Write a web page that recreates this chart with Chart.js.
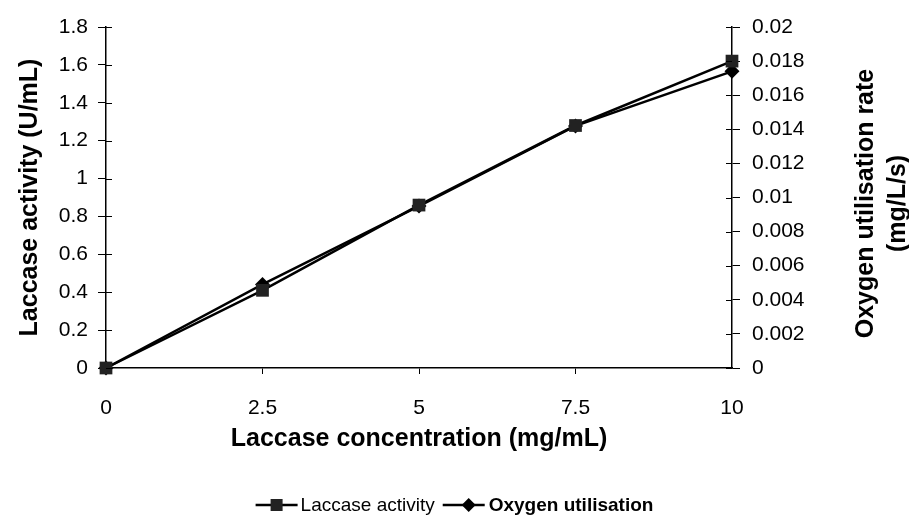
<!DOCTYPE html>
<html lang="en">
<head>
<meta charset="UTF-8">
<title>Laccase activity and oxygen utilisation</title>
<script src="https://cdn.jsdelivr.net/npm/chart.js"></script>
<style>
    body {
        margin: 0;
        padding: 0;
        background-color: #fff;
    }
    #wrap {
        width: 909px;
        height: 519px;
    }
</style>
</head>
<body>
<div id="wrap">
    <canvas id="chart" width="909" height="519"></canvas>
</div>

<script>
    // data
    const concentration = [0, 2.5, 5, 7.5, 10];           // mg/mL
    const laccaseActivity = [0, 0.41, 0.86, 1.28, 1.62];   // U/mL (left axis)
    const oxygenRate = [0, 0.0049, 0.0095, 0.0142, 0.0174]; // mg/L/s (right axis)

    const seriesNames = ['Laccase activity', 'Oxygen utilisation'];
    const xTitle = 'Laccase concentration (mg/mL)';
    const yTitle = 'Laccase activity (U/mL)';
    const y1Title = ['Oxygen utilisation rate', '(mg/L/s)'];

    const FONT = "'Liberation Sans', Arial, sans-serif";
    const fmt = v => String(+Number(v).toFixed(4));

    // cross ticks, right axis title and legend
    const extras = {
        id: 'extras',
        afterDraw(chart) {
            const ctx = chart.ctx;
            const area = chart.chartArea;
            ctx.save();
            ctx.strokeStyle = '#000';
            ctx.lineWidth = 1;
            // inner half of the crossing ticks on both value axes
            ['y', 'y1'].forEach(id => {
                const sc = chart.scales[id];
                const x0 = id === 'y' ? area.left : area.right;
                const dir = id === 'y' ? 1 : -1;
                sc.ticks.forEach(t => {
                    const py = Math.round(sc.getPixelForValue(t.value)) + 0.5;
                    ctx.beginPath();
                    ctx.moveTo(x0, py);
                    ctx.lineTo(x0 + dir * 6, py);
                    ctx.stroke();
                });
            });

            // right axis title, read bottom to top like the left one
            ctx.fillStyle = '#000';
            ctx.font = 'bold 25px ' + FONT;
            ctx.textAlign = 'center';
            ctx.textBaseline = 'middle';
            const midY = (area.top + area.bottom) / 2 + 6;
            y1Title.forEach((line, i) => {
                ctx.save();
                ctx.translate(area.right + 134 + i * 32, midY);
                ctx.rotate(-Math.PI / 2);
                ctx.fillText(line, 0, 0);
                ctx.restore();
            });

            // legend
            const ly = 505;
            const sampleW = 42;
            ctx.textAlign = 'left';
            ctx.font = '19px ' + FONT;
            const w1 = ctx.measureText(seriesNames[0]).width;
            ctx.font = 'bold 19px ' + FONT;
            const w2 = ctx.measureText(seriesNames[1]).width;
            const total = sampleW + 3 + w1 + 8 + sampleW + 4 + w2;
            let x = chart.width / 2 - total / 2;

            ctx.lineWidth = 2.5;
            ctx.beginPath();
            ctx.moveTo(x, ly);
            ctx.lineTo(x + sampleW, ly);
            ctx.stroke();
            ctx.fillStyle = '#222';
            ctx.fillRect(x + sampleW / 2 - 6, ly - 6, 12, 12);
            x += sampleW + 3;
            ctx.fillStyle = '#000';
            ctx.font = '19px ' + FONT;
            ctx.fillText(seriesNames[0], x, ly + 1);
            x += w1 + 8;

            ctx.beginPath();
            ctx.moveTo(x, ly);
            ctx.lineTo(x + sampleW, ly);
            ctx.stroke();
            const cx = x + sampleW / 2 + 5;
            ctx.beginPath();
            ctx.moveTo(cx, ly - 7);
            ctx.lineTo(cx + 7, ly);
            ctx.lineTo(cx, ly + 7);
            ctx.lineTo(cx - 7, ly);
            ctx.closePath();
            ctx.fill();
            x += sampleW + 4;
            ctx.font = 'bold 19px ' + FONT;
            ctx.fillText(seriesNames[1], x, ly + 1);
            ctx.restore();
        }
    };

    const ctx = document.getElementById('chart').getContext('2d');
    new Chart(ctx, {
        type: 'line',
        data: {
            datasets: [{
                label: seriesNames[0],
                data: concentration.map((c, i) => ({ x: c, y: laccaseActivity[i] })),
                yAxisID: 'y',
                borderColor: '#000',
                borderWidth: 2.5,
                backgroundColor: '#222',
                pointStyle: 'rect',
                pointRadius: 9,
                pointBorderWidth: 0,
                tension: 0,
                clip: false
            }, {
                label: seriesNames[1],
                data: concentration.map((c, i) => ({ x: c, y: oxygenRate[i] })),
                yAxisID: 'y1',
                borderColor: '#000',
                borderWidth: 2.5,
                backgroundColor: '#000',
                pointStyle: 'rectRot',
                pointRadius: 7.5,
                pointBorderWidth: 0,
                tension: 0,
                clip: false
            }]
        },
        options: {
            responsive: false,
            animation: false,
            layout: {
                padding: { top: 27, bottom: 61, left: 0, right: 0 }
            },
            plugins: {
                legend: { display: false },
                tooltip: { enabled: false }
            },
            scales: {
                x: {
                    type: 'linear',
                    min: 0,
                    max: 10,
                    afterFit: s => { s.height = 90; },
                    ticks: {
                        stepSize: 2.5,
                        maxRotation: 0,
                        minRotation: 0,
                        padding: 22,
                        color: '#000',
                        font: { family: FONT, size: 21 },
                        callback: fmt
                    },
                    grid: {
                        drawOnChartArea: false,
                        tickLength: 6,
                        color: c => (c.index === 0 || c.index === 4) ? 'rgba(0,0,0,0)' : '#000'
                    },
                    border: { color: '#000', width: 1.5 },
                    title: {
                        display: true,
                        text: xTitle,
                        color: '#000',
                        font: { family: FONT, size: 25, weight: 'bold' },
                        padding: { top: 0, bottom: 4 }
                    }
                },
                y: {
                    position: 'left',
                    min: 0,
                    max: 1.8,
                    afterFit: s => { s.width = 106; },
                    ticks: {
                        stepSize: 0.2,
                        padding: 10,
                        color: '#000',
                        font: { family: FONT, size: 21 },
                        callback: fmt
                    },
                    grid: { drawOnChartArea: false, tickLength: 8, color: '#000' },
                    border: { color: '#000', width: 1.5 },
                    title: {
                        display: true,
                        text: yTitle,
                        color: '#000',
                        font: { family: FONT, size: 25, weight: 'bold' },
                        padding: { top: 15, bottom: 0 }
                    }
                },
                y1: {
                    position: 'right',
                    min: 0,
                    max: 0.02,
                    afterFit: s => { s.width = 177; },
                    ticks: {
                        stepSize: 0.002,
                        padding: 12,
                        color: '#000',
                        font: { family: FONT, size: 21 },
                        callback: fmt
                    },
                    grid: { drawOnChartArea: false, tickLength: 8, color: '#000' },
                    border: { color: '#000', width: 1.5 }
                }
            }
        },
        plugins: [extras]
    });
</script>
</body>
</html>
